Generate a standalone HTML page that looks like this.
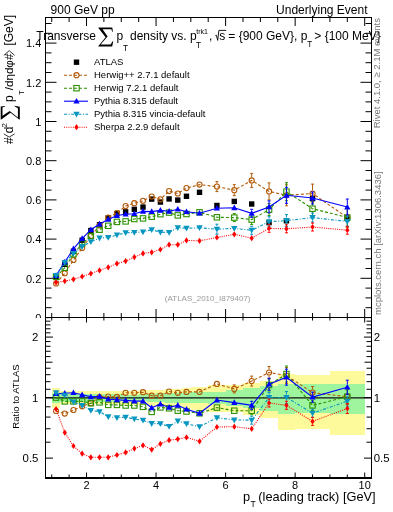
<!DOCTYPE html><html><head><meta charset="utf-8"><style>html,body{margin:0;padding:0;background:#fff;overflow:hidden}svg{display:block;will-change:transform}</style></head><body><svg width="393" height="512" viewBox="0 0 393 512" font-family="'Liberation Sans', sans-serif">
<rect width="393" height="512" fill="#fff"/>
<text x="50.6" y="14" font-size="12">900 GeV pp</text>
<text x="367.5" y="14" font-size="12" text-anchor="end">Underlying Event</text>
<path d="M45.5,317.50h11M371.5,317.50h-11M45.5,307.70h6M371.5,307.70h-6M45.5,297.90h6M371.5,297.90h-6M45.5,288.10h6M371.5,288.10h-6M45.5,278.30h11M371.5,278.30h-11M45.5,268.50h6M371.5,268.50h-6M45.5,258.70h6M371.5,258.70h-6M45.5,248.90h6M371.5,248.90h-6M45.5,239.10h11M371.5,239.10h-11M45.5,229.30h6M371.5,229.30h-6M45.5,219.50h6M371.5,219.50h-6M45.5,209.70h6M371.5,209.70h-6M45.5,199.90h11M371.5,199.90h-11M45.5,190.10h6M371.5,190.10h-6M45.5,180.30h6M371.5,180.30h-6M45.5,170.50h6M371.5,170.50h-6M45.5,160.70h11M371.5,160.70h-11M45.5,150.90h6M371.5,150.90h-6M45.5,141.10h6M371.5,141.10h-6M45.5,131.30h6M371.5,131.30h-6M45.5,121.50h11M371.5,121.50h-11M45.5,111.70h6M371.5,111.70h-6M45.5,101.90h6M371.5,101.90h-6M45.5,92.10h6M371.5,92.10h-6M45.5,82.30h11M371.5,82.30h-11M45.5,72.50h6M371.5,72.50h-6M45.5,62.70h6M371.5,62.70h-6M45.5,52.90h6M371.5,52.90h-6M45.5,43.10h11M371.5,43.10h-11M45.5,33.30h6M371.5,33.30h-6M45.5,23.50h6M371.5,23.50h-6M51.73,17.5v4.5M51.73,317.5v-4.5M69.11,17.5v4.5M69.11,317.5v-4.5M86.50,17.5v8.5M86.50,317.5v-8.5M103.89,17.5v4.5M103.89,317.5v-4.5M121.28,17.5v4.5M121.28,317.5v-4.5M138.66,17.5v4.5M138.66,317.5v-4.5M156.05,17.5v8.5M156.05,317.5v-8.5M173.44,17.5v4.5M173.44,317.5v-4.5M190.82,17.5v4.5M190.82,317.5v-4.5M208.21,17.5v4.5M208.21,317.5v-4.5M225.60,17.5v8.5M225.60,317.5v-8.5M242.99,17.5v4.5M242.99,317.5v-4.5M260.38,17.5v4.5M260.38,317.5v-4.5M277.76,17.5v4.5M277.76,317.5v-4.5M295.15,17.5v8.5M295.15,317.5v-8.5M312.54,17.5v4.5M312.54,317.5v-4.5M329.92,17.5v4.5M329.92,317.5v-4.5M347.31,17.5v4.5M347.31,317.5v-4.5M364.70,17.5v8.5M364.70,317.5v-8.5" stroke="#000" stroke-width="1" fill="none"/>
<text x="41.3" y="282.60" font-size="11" text-anchor="end">0.2</text>
<text x="41.3" y="243.40" font-size="11" text-anchor="end">0.4</text>
<text x="41.3" y="204.20" font-size="11" text-anchor="end">0.6</text>
<text x="41.3" y="165.00" font-size="11" text-anchor="end">0.8</text>
<text x="41.3" y="125.80" font-size="11" text-anchor="end">1</text>
<text x="41.3" y="86.60" font-size="11" text-anchor="end">1.2</text>
<text x="41.3" y="47.40" font-size="11" text-anchor="end">1.4</text>
<svg x="0" y="0" width="393" height="317.6"><text x="41.3" y="321.80" font-size="11" text-anchor="end">0</text></svg>
<rect x="53.37" y="274.80" width="5.4" height="5.4" fill="#000"/>
<rect x="62.07" y="261.59" width="5.4" height="5.4" fill="#000"/>
<rect x="70.76" y="248.52" width="5.4" height="5.4" fill="#000"/>
<rect x="79.45" y="237.51" width="5.4" height="5.4" fill="#000"/>
<rect x="88.15" y="227.81" width="5.4" height="5.4" fill="#000"/>
<rect x="96.84" y="222.04" width="5.4" height="5.4" fill="#000"/>
<rect x="105.53" y="215.12" width="5.4" height="5.4" fill="#000"/>
<rect x="114.23" y="210.86" width="5.4" height="5.4" fill="#000"/>
<rect x="122.92" y="209.14" width="5.4" height="5.4" fill="#000"/>
<rect x="131.62" y="206.62" width="5.4" height="5.4" fill="#000"/>
<rect x="140.31" y="204.36" width="5.4" height="5.4" fill="#000"/>
<rect x="149.00" y="196.41" width="5.4" height="5.4" fill="#000"/>
<rect x="157.70" y="199.36" width="5.4" height="5.4" fill="#000"/>
<rect x="166.39" y="196.22" width="5.4" height="5.4" fill="#000"/>
<rect x="175.08" y="197.39" width="5.4" height="5.4" fill="#000"/>
<rect x="183.78" y="193.58" width="5.4" height="5.4" fill="#000"/>
<rect x="196.82" y="189.61" width="5.4" height="5.4" fill="#000"/>
<rect x="214.21" y="202.76" width="5.4" height="5.4" fill="#000"/>
<rect x="231.59" y="198.72" width="5.4" height="5.4" fill="#000"/>
<rect x="248.98" y="201.31" width="5.4" height="5.4" fill="#000"/>
<rect x="266.37" y="219.94" width="5.4" height="5.4" fill="#000"/>
<rect x="283.76" y="218.07" width="5.4" height="5.4" fill="#000"/>
<rect x="309.84" y="195.93" width="5.4" height="5.4" fill="#000"/>
<rect x="344.61" y="215.83" width="5.4" height="5.4" fill="#000"/>
<polyline points="56.07,283.50 64.77,273.20 73.46,260.00 82.15,248.00 90.85,236.00 99.54,225.50 108.23,217.50 116.93,213.00 125.62,206.10 134.32,203.20 143.01,200.80 151.70,196.50 160.40,199.30 169.09,191.10 177.78,193.50 186.48,188.10 199.52,184.60 216.91,186.60 234.29,190.20 251.68,180.40 269.07,191.40 286.46,195.30 312.54,193.50 347.31,217.50" fill="none" stroke="#b35a08" stroke-width="1.1" stroke-dasharray="3,2"/>
<circle cx="56.07" cy="283.50" r="2.55" fill="none" stroke="#b35a08" stroke-width="1.1"/>
<circle cx="64.77" cy="273.20" r="2.55" fill="none" stroke="#b35a08" stroke-width="1.1"/>
<circle cx="73.46" cy="260.00" r="2.55" fill="none" stroke="#b35a08" stroke-width="1.1"/>
<circle cx="82.15" cy="248.00" r="2.55" fill="none" stroke="#b35a08" stroke-width="1.1"/>
<circle cx="90.85" cy="236.00" r="2.55" fill="none" stroke="#b35a08" stroke-width="1.1"/>
<circle cx="99.54" cy="225.50" r="2.55" fill="none" stroke="#b35a08" stroke-width="1.1"/>
<circle cx="108.23" cy="217.50" r="2.55" fill="none" stroke="#b35a08" stroke-width="1.1"/>
<circle cx="116.93" cy="213.00" r="2.55" fill="none" stroke="#b35a08" stroke-width="1.1"/>
<circle cx="125.62" cy="206.10" r="2.55" fill="none" stroke="#b35a08" stroke-width="1.1"/>
<circle cx="134.32" cy="203.20" r="2.55" fill="none" stroke="#b35a08" stroke-width="1.1"/>
<circle cx="143.01" cy="200.80" r="2.55" fill="none" stroke="#b35a08" stroke-width="1.1"/>
<circle cx="151.70" cy="196.50" r="2.55" fill="none" stroke="#b35a08" stroke-width="1.1"/>
<circle cx="160.40" cy="199.30" r="2.55" fill="none" stroke="#b35a08" stroke-width="1.1"/>
<circle cx="169.09" cy="191.10" r="2.55" fill="none" stroke="#b35a08" stroke-width="1.1"/>
<circle cx="177.78" cy="193.50" r="2.55" fill="none" stroke="#b35a08" stroke-width="1.1"/>
<circle cx="186.48" cy="188.10" r="2.55" fill="none" stroke="#b35a08" stroke-width="1.1"/>
<circle cx="199.52" cy="184.60" r="2.55" fill="none" stroke="#b35a08" stroke-width="1.1"/>
<path d="M216.91,181.60V183.60M216.91,189.60V191.60M215.41,181.60h3M215.41,191.60h3" stroke="#b35a08" stroke-width="1" fill="none"/>
<circle cx="216.91" cy="186.60" r="2.55" fill="none" stroke="#b35a08" stroke-width="1.1"/>
<path d="M234.29,184.70V187.20M234.29,193.20V195.70M232.79,184.70h3M232.79,195.70h3" stroke="#b35a08" stroke-width="1" fill="none"/>
<circle cx="234.29" cy="190.20" r="2.55" fill="none" stroke="#b35a08" stroke-width="1.1"/>
<path d="M251.68,173.40V177.40M251.68,183.40V187.40M250.18,173.40h3M250.18,187.40h3" stroke="#b35a08" stroke-width="1" fill="none"/>
<circle cx="251.68" cy="180.40" r="2.55" fill="none" stroke="#b35a08" stroke-width="1.1"/>
<path d="M269.07,182.90V188.40M269.07,194.40V199.90M267.57,182.90h3M267.57,199.90h3" stroke="#b35a08" stroke-width="1" fill="none"/>
<circle cx="269.07" cy="191.40" r="2.55" fill="none" stroke="#b35a08" stroke-width="1.1"/>
<path d="M286.46,184.80V192.30M286.46,198.30V205.80M284.96,184.80h3M284.96,205.80h3" stroke="#b35a08" stroke-width="1" fill="none"/>
<circle cx="286.46" cy="195.30" r="2.55" fill="none" stroke="#b35a08" stroke-width="1.1"/>
<path d="M312.54,184.10V190.50M312.54,196.50V202.90M311.04,184.10h3M311.04,202.90h3" stroke="#b35a08" stroke-width="1" fill="none"/>
<circle cx="312.54" cy="193.50" r="2.55" fill="none" stroke="#b35a08" stroke-width="1.1"/>
<path d="M347.31,207.50V214.50M347.31,220.50V227.50M345.81,207.50h3M345.81,227.50h3" stroke="#b35a08" stroke-width="1" fill="none"/>
<circle cx="347.31" cy="217.50" r="2.55" fill="none" stroke="#b35a08" stroke-width="1.1"/>
<polyline points="56.07,276.80 64.77,267.80 73.46,254.20 82.15,243.50 90.85,236.00 99.54,229.70 108.23,225.80 116.93,221.90 125.62,221.40 134.32,219.00 143.01,218.40 151.70,216.70 160.40,214.20 169.09,212.60 177.78,215.40 186.48,214.00 199.52,212.30 216.91,217.30 234.29,217.60 251.68,219.60 269.07,209.60 286.46,191.70 312.54,208.70 347.31,217.50" fill="none" stroke="#2c9000" stroke-width="1.1" stroke-dasharray="3,2"/>
<rect x="53.37" y="274.10" width="5.4" height="5.4" fill="none" stroke="#2c9000" stroke-width="1.1"/>
<rect x="62.07" y="265.10" width="5.4" height="5.4" fill="none" stroke="#2c9000" stroke-width="1.1"/>
<rect x="70.76" y="251.50" width="5.4" height="5.4" fill="none" stroke="#2c9000" stroke-width="1.1"/>
<rect x="79.45" y="240.80" width="5.4" height="5.4" fill="none" stroke="#2c9000" stroke-width="1.1"/>
<rect x="88.15" y="233.30" width="5.4" height="5.4" fill="none" stroke="#2c9000" stroke-width="1.1"/>
<rect x="96.84" y="227.00" width="5.4" height="5.4" fill="none" stroke="#2c9000" stroke-width="1.1"/>
<rect x="105.53" y="223.10" width="5.4" height="5.4" fill="none" stroke="#2c9000" stroke-width="1.1"/>
<rect x="114.23" y="219.20" width="5.4" height="5.4" fill="none" stroke="#2c9000" stroke-width="1.1"/>
<rect x="122.92" y="218.70" width="5.4" height="5.4" fill="none" stroke="#2c9000" stroke-width="1.1"/>
<rect x="131.62" y="216.30" width="5.4" height="5.4" fill="none" stroke="#2c9000" stroke-width="1.1"/>
<rect x="140.31" y="215.70" width="5.4" height="5.4" fill="none" stroke="#2c9000" stroke-width="1.1"/>
<rect x="149.00" y="214.00" width="5.4" height="5.4" fill="none" stroke="#2c9000" stroke-width="1.1"/>
<rect x="157.70" y="211.50" width="5.4" height="5.4" fill="none" stroke="#2c9000" stroke-width="1.1"/>
<rect x="166.39" y="209.90" width="5.4" height="5.4" fill="none" stroke="#2c9000" stroke-width="1.1"/>
<rect x="175.08" y="212.70" width="5.4" height="5.4" fill="none" stroke="#2c9000" stroke-width="1.1"/>
<rect x="183.78" y="211.30" width="5.4" height="5.4" fill="none" stroke="#2c9000" stroke-width="1.1"/>
<rect x="196.82" y="209.60" width="5.4" height="5.4" fill="none" stroke="#2c9000" stroke-width="1.1"/>
<rect x="214.21" y="214.60" width="5.4" height="5.4" fill="none" stroke="#2c9000" stroke-width="1.1"/>
<path d="M234.29,213.60V214.60M234.29,220.60V221.60M232.79,213.60h3M232.79,221.60h3" stroke="#2c9000" stroke-width="1" fill="none"/>
<rect x="231.59" y="214.90" width="5.4" height="5.4" fill="none" stroke="#2c9000" stroke-width="1.1"/>
<path d="M251.68,214.60V216.60M251.68,222.60V224.60M250.18,214.60h3M250.18,224.60h3" stroke="#2c9000" stroke-width="1" fill="none"/>
<rect x="248.98" y="216.90" width="5.4" height="5.4" fill="none" stroke="#2c9000" stroke-width="1.1"/>
<path d="M269.07,203.60V206.60M269.07,212.60V215.60M267.57,203.60h3M267.57,215.60h3" stroke="#2c9000" stroke-width="1" fill="none"/>
<rect x="266.37" y="206.90" width="5.4" height="5.4" fill="none" stroke="#2c9000" stroke-width="1.1"/>
<path d="M286.46,182.70V188.70M286.46,194.70V200.70M284.96,182.70h3M284.96,200.70h3" stroke="#2c9000" stroke-width="1" fill="none"/>
<rect x="283.76" y="189.00" width="5.4" height="5.4" fill="none" stroke="#2c9000" stroke-width="1.1"/>
<path d="M312.54,201.70V205.70M312.54,211.70V215.70M311.04,201.70h3M311.04,215.70h3" stroke="#2c9000" stroke-width="1" fill="none"/>
<rect x="309.84" y="206.00" width="5.4" height="5.4" fill="none" stroke="#2c9000" stroke-width="1.1"/>
<path d="M347.31,208.50V214.50M347.31,220.50V226.50M345.81,208.50h3M345.81,226.50h3" stroke="#2c9000" stroke-width="1" fill="none"/>
<rect x="344.61" y="214.80" width="5.4" height="5.4" fill="none" stroke="#2c9000" stroke-width="1.1"/>
<polyline points="56.07,275.50 64.77,262.00 73.46,248.80 82.15,238.60 90.85,229.70 99.54,224.00 108.23,219.40 116.93,215.50 125.62,214.20 134.32,213.70 143.01,211.40 151.70,211.60 160.40,210.40 169.09,211.30 177.78,209.20 186.48,211.70 199.52,213.20 216.91,208.20 234.29,207.80 251.68,213.30 269.07,206.90 286.46,195.30 312.54,198.00 347.31,207.00" fill="none" stroke="#0000ff" stroke-width="1.1"/>
<path d="M56.07,272.20L59.17,277.90L52.97,277.90Z" fill="#0000ff"/>
<path d="M64.77,258.70L67.87,264.40L61.67,264.40Z" fill="#0000ff"/>
<path d="M73.46,245.50L76.56,251.20L70.36,251.20Z" fill="#0000ff"/>
<path d="M82.15,235.30L85.25,241.00L79.05,241.00Z" fill="#0000ff"/>
<path d="M90.85,226.40L93.95,232.10L87.75,232.10Z" fill="#0000ff"/>
<path d="M99.54,220.70L102.64,226.40L96.44,226.40Z" fill="#0000ff"/>
<path d="M108.23,216.10L111.33,221.80L105.13,221.80Z" fill="#0000ff"/>
<path d="M116.93,212.20L120.03,217.90L113.83,217.90Z" fill="#0000ff"/>
<path d="M125.62,210.90L128.72,216.60L122.52,216.60Z" fill="#0000ff"/>
<path d="M134.32,210.40L137.42,216.10L131.22,216.10Z" fill="#0000ff"/>
<path d="M143.01,208.10L146.11,213.80L139.91,213.80Z" fill="#0000ff"/>
<path d="M151.70,208.30L154.80,214.00L148.60,214.00Z" fill="#0000ff"/>
<path d="M160.40,207.10L163.50,212.80L157.30,212.80Z" fill="#0000ff"/>
<path d="M169.09,208.00L172.19,213.70L165.99,213.70Z" fill="#0000ff"/>
<path d="M177.78,205.90L180.88,211.60L174.68,211.60Z" fill="#0000ff"/>
<path d="M186.48,208.40L189.58,214.10L183.38,214.10Z" fill="#0000ff"/>
<path d="M199.52,209.90L202.62,215.60L196.42,215.60Z" fill="#0000ff"/>
<path d="M216.91,204.90L220.01,210.60L213.81,210.60Z" fill="#0000ff"/>
<path d="M234.29,204.50L237.39,210.20L231.19,210.20Z" fill="#0000ff"/>
<path d="M251.68,209.30V210.30M251.68,216.30V217.30M250.18,209.30h3M250.18,217.30h3" stroke="#0000ff" stroke-width="1" fill="none"/>
<path d="M251.68,210.00L254.78,215.70L248.58,215.70Z" fill="#0000ff"/>
<path d="M269.07,200.90V203.90M269.07,209.90V212.90M267.57,200.90h3M267.57,212.90h3" stroke="#0000ff" stroke-width="1" fill="none"/>
<path d="M269.07,203.60L272.17,209.30L265.97,209.30Z" fill="#0000ff"/>
<path d="M286.46,187.30V192.30M286.46,198.30V203.30M284.96,187.30h3M284.96,203.30h3" stroke="#0000ff" stroke-width="1" fill="none"/>
<path d="M286.46,192.00L289.56,197.70L283.36,197.70Z" fill="#0000ff"/>
<path d="M312.54,192.00V195.00M312.54,201.00V204.00M311.04,192.00h3M311.04,204.00h3" stroke="#0000ff" stroke-width="1" fill="none"/>
<path d="M312.54,194.70L315.64,200.40L309.44,200.40Z" fill="#0000ff"/>
<path d="M347.31,199.00V204.00M347.31,210.00V215.00M345.81,199.00h3M345.81,215.00h3" stroke="#0000ff" stroke-width="1" fill="none"/>
<path d="M347.31,203.70L350.41,209.40L344.21,209.40Z" fill="#0000ff"/>
<polyline points="56.07,275.60 64.77,262.50 73.46,253.50 82.15,246.60 90.85,241.70 99.54,238.10 108.23,237.50 116.93,235.00 125.62,232.80 134.32,232.50 143.01,231.90 151.70,229.70 160.40,232.20 169.09,232.50 177.78,227.70 186.48,228.20 199.52,227.80 216.91,229.20 234.29,228.40 251.68,230.30 269.07,221.70 286.46,220.60 312.54,217.60 347.31,221.40" fill="none" stroke="#0896c0" stroke-width="1.1" stroke-dasharray="3,1.6,1,1.6"/>
<path d="M56.07,278.90L59.27,273.10L52.87,273.10Z" fill="#0896c0"/>
<path d="M64.77,265.80L67.97,260.00L61.57,260.00Z" fill="#0896c0"/>
<path d="M73.46,256.80L76.66,251.00L70.26,251.00Z" fill="#0896c0"/>
<path d="M82.15,249.90L85.35,244.10L78.95,244.10Z" fill="#0896c0"/>
<path d="M90.85,245.00L94.05,239.20L87.65,239.20Z" fill="#0896c0"/>
<path d="M99.54,241.40L102.74,235.60L96.34,235.60Z" fill="#0896c0"/>
<path d="M108.23,240.80L111.43,235.00L105.03,235.00Z" fill="#0896c0"/>
<path d="M116.93,238.30L120.13,232.50L113.73,232.50Z" fill="#0896c0"/>
<path d="M125.62,236.10L128.82,230.30L122.42,230.30Z" fill="#0896c0"/>
<path d="M134.32,235.80L137.52,230.00L131.12,230.00Z" fill="#0896c0"/>
<path d="M143.01,235.20L146.21,229.40L139.81,229.40Z" fill="#0896c0"/>
<path d="M151.70,233.00L154.90,227.20L148.50,227.20Z" fill="#0896c0"/>
<path d="M160.40,235.50L163.60,229.70L157.20,229.70Z" fill="#0896c0"/>
<path d="M169.09,235.80L172.29,230.00L165.89,230.00Z" fill="#0896c0"/>
<path d="M177.78,231.00L180.98,225.20L174.58,225.20Z" fill="#0896c0"/>
<path d="M186.48,231.50L189.68,225.70L183.28,225.70Z" fill="#0896c0"/>
<path d="M199.52,231.10L202.72,225.30L196.32,225.30Z" fill="#0896c0"/>
<path d="M216.91,224.20V226.20M216.91,232.20V234.20M215.41,224.20h3M215.41,234.20h3" stroke="#0896c0" stroke-width="1" fill="none"/>
<path d="M216.91,232.50L220.11,226.70L213.71,226.70Z" fill="#0896c0"/>
<path d="M234.29,231.70L237.49,225.90L231.09,225.90Z" fill="#0896c0"/>
<path d="M251.68,226.30V227.30M251.68,233.30V234.30M250.18,226.30h3M250.18,234.30h3" stroke="#0896c0" stroke-width="1" fill="none"/>
<path d="M251.68,233.60L254.88,227.80L248.48,227.80Z" fill="#0896c0"/>
<path d="M269.07,216.70V218.70M269.07,224.70V226.70M267.57,216.70h3M267.57,226.70h3" stroke="#0896c0" stroke-width="1" fill="none"/>
<path d="M269.07,225.00L272.27,219.20L265.87,219.20Z" fill="#0896c0"/>
<path d="M286.46,214.60V217.60M286.46,223.60V226.60M284.96,214.60h3M284.96,226.60h3" stroke="#0896c0" stroke-width="1" fill="none"/>
<path d="M286.46,223.90L289.66,218.10L283.26,218.10Z" fill="#0896c0"/>
<path d="M312.54,213.10V214.60M312.54,220.60V222.10M311.04,213.10h3M311.04,222.10h3" stroke="#0896c0" stroke-width="1" fill="none"/>
<path d="M312.54,220.90L315.74,215.10L309.34,215.10Z" fill="#0896c0"/>
<path d="M347.31,216.40V218.40M347.31,224.40V226.40M345.81,216.40h3M345.81,226.40h3" stroke="#0896c0" stroke-width="1" fill="none"/>
<path d="M347.31,224.70L350.51,218.90L344.11,218.90Z" fill="#0896c0"/>
<polyline points="56.07,282.40 64.77,281.10 73.46,279.30 82.15,276.50 90.85,273.60 99.54,270.40 108.23,267.30 116.93,263.60 125.62,261.10 134.32,257.10 143.01,253.40 151.70,252.30 160.40,249.50 169.09,244.70 177.78,244.70 186.48,240.40 199.52,240.80 216.91,237.50 234.29,234.30 251.68,238.20 269.07,228.30 286.46,228.80 312.54,227.00 347.31,230.20" fill="none" stroke="#ff0000" stroke-width="1.1" stroke-dasharray="1,1.2"/>
<path d="M56.07,279.30L58.17,282.40L56.07,285.50L53.97,282.40Z" fill="#ff0000"/>
<path d="M64.77,278.00L66.87,281.10L64.77,284.20L62.67,281.10Z" fill="#ff0000"/>
<path d="M73.46,276.20L75.56,279.30L73.46,282.40L71.36,279.30Z" fill="#ff0000"/>
<path d="M82.15,273.40L84.25,276.50L82.15,279.60L80.05,276.50Z" fill="#ff0000"/>
<path d="M90.85,270.50L92.95,273.60L90.85,276.70L88.75,273.60Z" fill="#ff0000"/>
<path d="M99.54,267.30L101.64,270.40L99.54,273.50L97.44,270.40Z" fill="#ff0000"/>
<path d="M108.23,264.20L110.33,267.30L108.23,270.40L106.13,267.30Z" fill="#ff0000"/>
<path d="M116.93,260.50L119.03,263.60L116.93,266.70L114.83,263.60Z" fill="#ff0000"/>
<path d="M125.62,258.00L127.72,261.10L125.62,264.20L123.52,261.10Z" fill="#ff0000"/>
<path d="M134.32,254.00L136.42,257.10L134.32,260.20L132.22,257.10Z" fill="#ff0000"/>
<path d="M143.01,250.30L145.11,253.40L143.01,256.50L140.91,253.40Z" fill="#ff0000"/>
<path d="M151.70,249.20L153.80,252.30L151.70,255.40L149.60,252.30Z" fill="#ff0000"/>
<path d="M160.40,246.40L162.50,249.50L160.40,252.60L158.30,249.50Z" fill="#ff0000"/>
<path d="M169.09,241.60L171.19,244.70L169.09,247.80L166.99,244.70Z" fill="#ff0000"/>
<path d="M177.78,241.60L179.88,244.70L177.78,247.80L175.68,244.70Z" fill="#ff0000"/>
<path d="M186.48,237.30L188.58,240.40L186.48,243.50L184.38,240.40Z" fill="#ff0000"/>
<path d="M199.52,237.70L201.62,240.80L199.52,243.90L197.42,240.80Z" fill="#ff0000"/>
<path d="M216.91,234.40L219.01,237.50L216.91,240.60L214.81,237.50Z" fill="#ff0000"/>
<path d="M234.29,231.20L236.39,234.30L234.29,237.40L232.19,234.30Z" fill="#ff0000"/>

<path d="M251.68,235.10L253.78,238.20L251.68,241.30L249.58,238.20Z" fill="#ff0000"/>
<path d="M269.07,224.30V225.30M269.07,231.30V232.30M267.57,224.30h3M267.57,232.30h3" stroke="#ff0000" stroke-width="1" fill="none"/>
<path d="M269.07,225.20L271.17,228.30L269.07,231.40L266.97,228.30Z" fill="#ff0000"/>
<path d="M286.46,224.80V225.80M286.46,231.80V232.80M284.96,224.80h3M284.96,232.80h3" stroke="#ff0000" stroke-width="1" fill="none"/>
<path d="M286.46,225.70L288.56,228.80L286.46,231.90L284.36,228.80Z" fill="#ff0000"/>
<path d="M312.54,223.00V224.00M312.54,230.00V231.00M311.04,223.00h3M311.04,231.00h3" stroke="#ff0000" stroke-width="1" fill="none"/>
<path d="M312.54,223.90L314.64,227.00L312.54,230.10L310.44,227.00Z" fill="#ff0000"/>
<path d="M347.31,226.20V227.20M347.31,233.20V234.20M345.81,226.20h3M345.81,234.20h3" stroke="#ff0000" stroke-width="1" fill="none"/>
<path d="M347.31,227.10L349.41,230.20L347.31,233.30L345.21,230.20Z" fill="#ff0000"/>
<rect x="45.5" y="17.5" width="326.0" height="300.0" fill="none" stroke="#000" stroke-width="1"/>
<rect x="73.80" y="59.50" width="5.4" height="5.4" fill="#000"/>
<text x="94" y="64.80" font-size="9.5">ATLAS</text>
<path d="M64,75.20H88" stroke="#b35a08" stroke-width="1.1" stroke-dasharray="3,2"/>
<circle cx="76.50" cy="75.20" r="2.55" fill="none" stroke="#b35a08" stroke-width="1.1"/>
<text x="94" y="77.80" font-size="9.5">Herwig++ 2.7.1 default</text>
<path d="M64,88.20H88" stroke="#2c9000" stroke-width="1.1" stroke-dasharray="3,2"/>
<rect x="73.80" y="85.50" width="5.4" height="5.4" fill="none" stroke="#2c9000" stroke-width="1.1"/>
<text x="94" y="90.80" font-size="9.5">Herwig 7.2.1 default</text>
<path d="M64,101.20H88" stroke="#0000ff" stroke-width="1.1"/>
<path d="M76.50,97.90L79.60,103.60L73.40,103.60Z" fill="#0000ff"/>
<text x="94" y="103.80" font-size="9.5">Pythia 8.315 default</text>
<path d="M64,114.20H88" stroke="#0896c0" stroke-width="1.1" stroke-dasharray="3,1.6,1,1.6"/>
<path d="M76.50,117.50L79.70,111.70L73.30,111.70Z" fill="#0896c0"/>
<text x="94" y="116.80" font-size="9.5">Pythia 8.315 vincia-default</text>
<path d="M64,127.20H88" stroke="#ff0000" stroke-width="1.1" stroke-dasharray="1,1.2"/>
<path d="M76.50,124.10L78.60,127.20L76.50,130.30L74.40,127.20Z" fill="#ff0000"/>
<text x="94" y="129.80" font-size="9.5">Sherpa 2.2.9 default</text>
<text x="207.7" y="301.3" font-size="8" fill="#999" text-anchor="middle">(ATLAS_2010_I879407)</text>
<text x="36.3" y="40.3" font-size="12">Transverse</text>
<path transform="translate(98.4,27.4)" d="M0,0L13.9,0L14.5,4.4L13.9,4.4L12.9,1.8L4.2,1.8L9.2,9L2.2,17.2L12.2,17.2L14.2,13.8L14.8,13.8L13.8,19.1L0,19.1L0,18.5L7.2,9.8L0,0.6Z" fill="#000"/>
<text x="116.6" y="40.3" font-size="12">p</text>
<text x="123" y="51" font-size="8.2">T</text>
<text x="130" y="40.3" font-size="12">density vs. p</text>
<text x="196.3" y="34" font-size="7">trk1</text>
<text x="196" y="47.5" font-size="8.2">T</text>
<text x="209" y="40.3" font-size="12">,</text>
<path d="M215.4,35.6L216.3,35.2L217.7,40.4L218.9,30.4L226.2,30.4" fill="none" stroke="#000" stroke-width="0.9"/>
<text x="219.2" y="40.3" font-size="12">s</text>
<text x="228.3" y="40.3" font-size="12">= {900 GeV}, p</text>
<text x="307.2" y="46.5" font-size="8.2">T</text>
<text x="314.3" y="40.3" font-size="12">&gt; {100 MeV}</text>
<g transform="translate(13.2,143.8) rotate(-90)"><text x="-0.3" y="0" font-size="12">#</text><path d="M9.9,-9.4L6.7,-4L9.9,1.4" fill="none" stroke="#000" stroke-width="0.8"/><text x="10.5" y="0" font-size="12">d</text><text x="16.3" y="-6.1" font-size="8">2</text><path transform="translate(24.2,-12.5) scale(0.94,1)" d="M0,0L13.9,0L14.5,4.4L13.9,4.4L12.9,1.8L4.2,1.8L9.2,9L2.2,17.2L12.2,17.2L14.2,13.8L14.8,13.8L13.8,19.1L0,19.1L0,18.5L7.2,9.8L0,0.6Z" fill="#000"/><text x="41.8" y="0" font-size="12">p</text><text x="48.9" y="10.6" font-size="7.7">T</text><text x="53.6" y="0" font-size="11.6">/dηdφ#</text><path d="M88.4,-9.4L93.2,-4L88.4,1.4" fill="none" stroke="#000" stroke-width="0.8"/><text x="98.2" y="0" font-size="12">[GeV]</text></g>
<text transform="translate(19.2,396.5) rotate(-90)" font-size="9.5" text-anchor="middle">Ratio to ATLAS</text>
<text transform="translate(380,128.3) rotate(-90)" font-size="9.5" fill="#777">Rivet 4.1.0, ≥ 2.1M events</text>
<text transform="translate(381,315) rotate(-90)" font-size="9.5" fill="#777">mcplots.cern.ch [arXiv:1306.3436]</text>
<path d="M51.73,388.49H60.42V407.77H51.73ZM60.42,391.29H69.11V404.41H60.42ZM69.11,391.29H77.81V404.41H69.11ZM77.81,391.29H86.50V404.41H77.81ZM86.50,391.29H95.19V404.41H86.50ZM95.19,391.29H103.89V404.41H95.19ZM103.89,391.29H112.58V404.41H103.89ZM112.58,391.29H121.28V404.41H112.58ZM121.28,391.04H129.97V404.69H121.28ZM129.97,390.88H138.66V404.88H129.97ZM138.66,390.48H147.36V405.35H138.66ZM147.36,390.08H156.05V405.83H147.36ZM156.05,389.68H164.74V406.31H156.05ZM164.74,389.28H173.44V406.80H164.74ZM173.44,388.88H182.13V407.28H173.44ZM182.13,388.49H190.82V407.77H182.13ZM190.82,386.93H208.21V409.76H190.82ZM208.21,385.40H225.60V411.79H208.21ZM225.60,385.40H242.99V411.79H225.60ZM242.99,383.15H260.38V414.92H242.99ZM260.38,380.96H277.76V418.18H260.38ZM277.76,374.03H295.15V429.99H277.76ZM295.15,374.70H329.92V428.74H295.15ZM329.92,371.40H364.70V435.20H329.92Z" fill="#fdfa9c" stroke="none" shape-rendering="crispEdges"/>
<path d="M51.73,392.93H60.42V402.54H51.73ZM60.42,393.76H69.11V401.62H60.42ZM69.11,393.76H77.81V401.62H69.11ZM77.81,393.76H86.50V401.62H77.81ZM86.50,393.76H95.19V401.62H86.50ZM95.19,393.76H103.89V401.62H95.19ZM103.89,393.76H112.58V401.62H103.89ZM112.58,393.76H121.28V401.62H112.58ZM121.28,394.60H129.97V400.71H121.28ZM129.97,394.60H138.66V400.71H129.97ZM138.66,394.18H147.36V401.16H138.66ZM147.36,393.76H156.05V401.62H147.36ZM156.05,393.34H164.74V402.08H156.05ZM164.74,392.93H173.44V402.54H164.74ZM173.44,392.68H182.13V402.82H173.44ZM182.13,392.51H190.82V403.00H182.13ZM190.82,392.10H208.21V403.47H190.82ZM208.21,391.69H225.60V403.93H208.21ZM225.60,389.68H242.99V406.31H225.60ZM242.99,388.49H260.38V407.77H242.99ZM260.38,386.16H277.76V410.77H260.38ZM277.76,383.89H295.15V413.87H277.76ZM295.15,384.27H329.92V413.34H295.15ZM329.92,383.52H364.70V414.39H329.92Z" fill="#9ef59e" stroke="none" shape-rendering="crispEdges"/>
<path d="M45.5,397.80H371.5" stroke="#111" stroke-width="1.2"/>
<polyline points="56.07,411.00 64.77,413.60 73.46,410.00 82.15,406.30 90.85,403.20 99.54,397.00 108.23,396.60 116.93,396.90 125.62,392.80 134.32,392.80 143.01,392.20 151.70,395.70 160.40,395.70 169.09,391.50 177.78,392.80 186.48,391.90 199.52,391.90 216.91,383.90 234.29,388.90 251.68,381.10 269.07,372.50 286.46,375.60 312.54,392.60 347.31,396.70" fill="none" stroke="#b35a08" stroke-width="1.1" stroke-dasharray="3,2"/>
<circle cx="56.07" cy="411.00" r="2.55" fill="none" stroke="#b35a08" stroke-width="1.1"/>
<circle cx="64.77" cy="413.60" r="2.55" fill="none" stroke="#b35a08" stroke-width="1.1"/>
<circle cx="73.46" cy="410.00" r="2.55" fill="none" stroke="#b35a08" stroke-width="1.1"/>
<circle cx="82.15" cy="406.30" r="2.55" fill="none" stroke="#b35a08" stroke-width="1.1"/>
<circle cx="90.85" cy="403.20" r="2.55" fill="none" stroke="#b35a08" stroke-width="1.1"/>
<circle cx="99.54" cy="397.00" r="2.55" fill="none" stroke="#b35a08" stroke-width="1.1"/>
<circle cx="108.23" cy="396.60" r="2.55" fill="none" stroke="#b35a08" stroke-width="1.1"/>
<circle cx="116.93" cy="396.90" r="2.55" fill="none" stroke="#b35a08" stroke-width="1.1"/>
<circle cx="125.62" cy="392.80" r="2.55" fill="none" stroke="#b35a08" stroke-width="1.1"/>
<circle cx="134.32" cy="392.80" r="2.55" fill="none" stroke="#b35a08" stroke-width="1.1"/>
<circle cx="143.01" cy="392.20" r="2.55" fill="none" stroke="#b35a08" stroke-width="1.1"/>
<circle cx="151.70" cy="395.70" r="2.55" fill="none" stroke="#b35a08" stroke-width="1.1"/>
<circle cx="160.40" cy="395.70" r="2.55" fill="none" stroke="#b35a08" stroke-width="1.1"/>
<circle cx="169.09" cy="391.50" r="2.55" fill="none" stroke="#b35a08" stroke-width="1.1"/>
<circle cx="177.78" cy="392.80" r="2.55" fill="none" stroke="#b35a08" stroke-width="1.1"/>
<circle cx="186.48" cy="391.90" r="2.55" fill="none" stroke="#b35a08" stroke-width="1.1"/>
<circle cx="199.52" cy="391.90" r="2.55" fill="none" stroke="#b35a08" stroke-width="1.1"/>
<circle cx="216.91" cy="383.90" r="2.55" fill="none" stroke="#b35a08" stroke-width="1.1"/>
<path d="M234.29,384.90V385.90M234.29,391.90V392.90M232.79,384.90h3M232.79,392.90h3" stroke="#b35a08" stroke-width="1" fill="none"/>
<circle cx="234.29" cy="388.90" r="2.55" fill="none" stroke="#b35a08" stroke-width="1.1"/>
<path d="M251.68,376.10V378.10M251.68,384.10V386.10M250.18,376.10h3M250.18,386.10h3" stroke="#b35a08" stroke-width="1" fill="none"/>
<circle cx="251.68" cy="381.10" r="2.55" fill="none" stroke="#b35a08" stroke-width="1.1"/>
<path d="M269.07,366.50V369.50M269.07,375.50V378.50M267.57,366.50h3M267.57,378.50h3" stroke="#b35a08" stroke-width="1" fill="none"/>
<circle cx="269.07" cy="372.50" r="2.55" fill="none" stroke="#b35a08" stroke-width="1.1"/>
<path d="M286.46,367.60V372.60M286.46,378.60V383.60M284.96,367.60h3M284.96,383.60h3" stroke="#b35a08" stroke-width="1" fill="none"/>
<circle cx="286.46" cy="375.60" r="2.55" fill="none" stroke="#b35a08" stroke-width="1.1"/>
<path d="M312.54,386.60V389.60M312.54,395.60V398.60M311.04,386.60h3M311.04,398.60h3" stroke="#b35a08" stroke-width="1" fill="none"/>
<circle cx="312.54" cy="392.60" r="2.55" fill="none" stroke="#b35a08" stroke-width="1.1"/>
<path d="M347.31,388.70V393.70M347.31,399.70V404.70M345.81,388.70h3M345.81,404.70h3" stroke="#b35a08" stroke-width="1" fill="none"/>
<circle cx="347.31" cy="396.70" r="2.55" fill="none" stroke="#b35a08" stroke-width="1.1"/>
<polyline points="56.07,397.60 64.77,401.40 73.46,401.40 82.15,401.40 90.85,403.20 99.54,402.40 108.23,404.90 116.93,404.90 125.62,405.50 134.32,405.50 143.01,406.80 151.70,411.90 160.40,407.40 169.09,408.30 177.78,410.70 186.48,411.50 199.52,413.30 216.91,407.60 234.29,410.70 251.68,410.80 269.07,385.00 286.46,374.00 312.54,405.40 347.31,396.70" fill="none" stroke="#2c9000" stroke-width="1.1" stroke-dasharray="3,2"/>
<rect x="53.37" y="394.90" width="5.4" height="5.4" fill="none" stroke="#2c9000" stroke-width="1.1"/>
<rect x="62.07" y="398.70" width="5.4" height="5.4" fill="none" stroke="#2c9000" stroke-width="1.1"/>
<rect x="70.76" y="398.70" width="5.4" height="5.4" fill="none" stroke="#2c9000" stroke-width="1.1"/>
<rect x="79.45" y="398.70" width="5.4" height="5.4" fill="none" stroke="#2c9000" stroke-width="1.1"/>
<rect x="88.15" y="400.50" width="5.4" height="5.4" fill="none" stroke="#2c9000" stroke-width="1.1"/>
<rect x="96.84" y="399.70" width="5.4" height="5.4" fill="none" stroke="#2c9000" stroke-width="1.1"/>
<rect x="105.53" y="402.20" width="5.4" height="5.4" fill="none" stroke="#2c9000" stroke-width="1.1"/>
<rect x="114.23" y="402.20" width="5.4" height="5.4" fill="none" stroke="#2c9000" stroke-width="1.1"/>
<rect x="122.92" y="402.80" width="5.4" height="5.4" fill="none" stroke="#2c9000" stroke-width="1.1"/>
<rect x="131.62" y="402.80" width="5.4" height="5.4" fill="none" stroke="#2c9000" stroke-width="1.1"/>
<rect x="140.31" y="404.10" width="5.4" height="5.4" fill="none" stroke="#2c9000" stroke-width="1.1"/>
<rect x="149.00" y="409.20" width="5.4" height="5.4" fill="none" stroke="#2c9000" stroke-width="1.1"/>
<rect x="157.70" y="404.70" width="5.4" height="5.4" fill="none" stroke="#2c9000" stroke-width="1.1"/>
<rect x="166.39" y="405.60" width="5.4" height="5.4" fill="none" stroke="#2c9000" stroke-width="1.1"/>
<rect x="175.08" y="408.00" width="5.4" height="5.4" fill="none" stroke="#2c9000" stroke-width="1.1"/>
<rect x="183.78" y="408.80" width="5.4" height="5.4" fill="none" stroke="#2c9000" stroke-width="1.1"/>
<rect x="196.82" y="410.60" width="5.4" height="5.4" fill="none" stroke="#2c9000" stroke-width="1.1"/>
<rect x="214.21" y="404.90" width="5.4" height="5.4" fill="none" stroke="#2c9000" stroke-width="1.1"/>
<rect x="231.59" y="408.00" width="5.4" height="5.4" fill="none" stroke="#2c9000" stroke-width="1.1"/>
<path d="M251.68,406.80V407.80M251.68,413.80V414.80M250.18,406.80h3M250.18,414.80h3" stroke="#2c9000" stroke-width="1" fill="none"/>
<rect x="248.98" y="408.10" width="5.4" height="5.4" fill="none" stroke="#2c9000" stroke-width="1.1"/>
<path d="M269.07,379.00V382.00M269.07,388.00V391.00M267.57,379.00h3M267.57,391.00h3" stroke="#2c9000" stroke-width="1" fill="none"/>
<rect x="266.37" y="382.30" width="5.4" height="5.4" fill="none" stroke="#2c9000" stroke-width="1.1"/>
<path d="M286.46,366.00V371.00M286.46,377.00V382.00M284.96,366.00h3M284.96,382.00h3" stroke="#2c9000" stroke-width="1" fill="none"/>
<rect x="283.76" y="371.30" width="5.4" height="5.4" fill="none" stroke="#2c9000" stroke-width="1.1"/>
<path d="M312.54,400.40V402.40M312.54,408.40V410.40M311.04,400.40h3M311.04,410.40h3" stroke="#2c9000" stroke-width="1" fill="none"/>
<rect x="309.84" y="402.70" width="5.4" height="5.4" fill="none" stroke="#2c9000" stroke-width="1.1"/>
<path d="M347.31,389.70V393.70M347.31,399.70V403.70M345.81,389.70h3M345.81,403.70h3" stroke="#2c9000" stroke-width="1" fill="none"/>
<rect x="344.61" y="394.00" width="5.4" height="5.4" fill="none" stroke="#2c9000" stroke-width="1.1"/>
<polyline points="56.07,393.70 64.77,393.20 73.46,392.70 82.15,394.80 90.85,396.90 99.54,396.40 108.23,399.20 116.93,399.80 125.62,400.40 134.32,401.10 143.01,401.10 151.70,407.80 160.40,404.00 169.09,407.40 177.78,405.30 186.48,409.20 199.52,413.30 216.91,400.00 234.29,402.60 251.68,405.30 269.07,384.20 286.46,377.20 312.54,397.10 347.31,387.20" fill="none" stroke="#0000ff" stroke-width="1.1"/>
<path d="M56.07,390.40L59.17,396.10L52.97,396.10Z" fill="#0000ff"/>
<path d="M64.77,389.90L67.87,395.60L61.67,395.60Z" fill="#0000ff"/>
<path d="M73.46,389.40L76.56,395.10L70.36,395.10Z" fill="#0000ff"/>
<path d="M82.15,391.50L85.25,397.20L79.05,397.20Z" fill="#0000ff"/>
<path d="M90.85,393.60L93.95,399.30L87.75,399.30Z" fill="#0000ff"/>
<path d="M99.54,393.10L102.64,398.80L96.44,398.80Z" fill="#0000ff"/>
<path d="M108.23,395.90L111.33,401.60L105.13,401.60Z" fill="#0000ff"/>
<path d="M116.93,396.50L120.03,402.20L113.83,402.20Z" fill="#0000ff"/>
<path d="M125.62,397.10L128.72,402.80L122.52,402.80Z" fill="#0000ff"/>
<path d="M134.32,397.80L137.42,403.50L131.22,403.50Z" fill="#0000ff"/>
<path d="M143.01,397.80L146.11,403.50L139.91,403.50Z" fill="#0000ff"/>
<path d="M151.70,404.50L154.80,410.20L148.60,410.20Z" fill="#0000ff"/>
<path d="M160.40,400.70L163.50,406.40L157.30,406.40Z" fill="#0000ff"/>
<path d="M169.09,404.10L172.19,409.80L165.99,409.80Z" fill="#0000ff"/>
<path d="M177.78,402.00L180.88,407.70L174.68,407.70Z" fill="#0000ff"/>
<path d="M186.48,405.90L189.58,411.60L183.38,411.60Z" fill="#0000ff"/>
<path d="M199.52,410.00L202.62,415.70L196.42,415.70Z" fill="#0000ff"/>
<path d="M216.91,396.70L220.01,402.40L213.81,402.40Z" fill="#0000ff"/>
<path d="M234.29,399.30L237.39,405.00L231.19,405.00Z" fill="#0000ff"/>
<path d="M251.68,401.30V402.30M251.68,408.30V409.30M250.18,401.30h3M250.18,409.30h3" stroke="#0000ff" stroke-width="1" fill="none"/>
<path d="M251.68,402.00L254.78,407.70L248.58,407.70Z" fill="#0000ff"/>
<path d="M269.07,378.20V381.20M269.07,387.20V390.20M267.57,378.20h3M267.57,390.20h3" stroke="#0000ff" stroke-width="1" fill="none"/>
<path d="M269.07,380.90L272.17,386.60L265.97,386.60Z" fill="#0000ff"/>
<path d="M286.46,369.20V374.20M286.46,380.20V385.20M284.96,369.20h3M284.96,385.20h3" stroke="#0000ff" stroke-width="1" fill="none"/>
<path d="M286.46,373.90L289.56,379.60L283.36,379.60Z" fill="#0000ff"/>
<path d="M312.54,392.10V394.10M312.54,400.10V402.10M311.04,392.10h3M311.04,402.10h3" stroke="#0000ff" stroke-width="1" fill="none"/>
<path d="M312.54,393.80L315.64,399.50L309.44,399.50Z" fill="#0000ff"/>
<path d="M347.31,380.20V384.20M347.31,390.20V394.20M345.81,380.20h3M345.81,394.20h3" stroke="#0000ff" stroke-width="1" fill="none"/>
<path d="M347.31,383.90L350.41,389.60L344.21,389.60Z" fill="#0000ff"/>
<polyline points="56.07,392.70 64.77,395.30 73.46,401.90 82.15,405.40 90.85,410.40 99.54,411.70 108.23,416.80 116.93,417.70 125.62,417.20 134.32,419.00 143.01,420.30 151.70,423.60 160.40,423.70 169.09,426.50 177.78,421.00 186.48,423.80 199.52,426.70 216.91,417.80 234.29,419.90 251.68,420.20 269.07,397.50 286.46,397.50 312.54,413.20 347.31,401.20" fill="none" stroke="#0896c0" stroke-width="1.1" stroke-dasharray="3,1.6,1,1.6"/>
<path d="M56.07,396.00L59.27,390.20L52.87,390.20Z" fill="#0896c0"/>
<path d="M64.77,398.60L67.97,392.80L61.57,392.80Z" fill="#0896c0"/>
<path d="M73.46,405.20L76.66,399.40L70.26,399.40Z" fill="#0896c0"/>
<path d="M82.15,408.70L85.35,402.90L78.95,402.90Z" fill="#0896c0"/>
<path d="M90.85,413.70L94.05,407.90L87.65,407.90Z" fill="#0896c0"/>
<path d="M99.54,415.00L102.74,409.20L96.34,409.20Z" fill="#0896c0"/>
<path d="M108.23,420.10L111.43,414.30L105.03,414.30Z" fill="#0896c0"/>
<path d="M116.93,421.00L120.13,415.20L113.73,415.20Z" fill="#0896c0"/>
<path d="M125.62,420.50L128.82,414.70L122.42,414.70Z" fill="#0896c0"/>
<path d="M134.32,422.30L137.52,416.50L131.12,416.50Z" fill="#0896c0"/>
<path d="M143.01,423.60L146.21,417.80L139.81,417.80Z" fill="#0896c0"/>
<path d="M151.70,426.90L154.90,421.10L148.50,421.10Z" fill="#0896c0"/>
<path d="M160.40,427.00L163.60,421.20L157.20,421.20Z" fill="#0896c0"/>
<path d="M169.09,429.80L172.29,424.00L165.89,424.00Z" fill="#0896c0"/>
<path d="M177.78,424.30L180.98,418.50L174.58,418.50Z" fill="#0896c0"/>
<path d="M186.48,427.10L189.68,421.30L183.28,421.30Z" fill="#0896c0"/>
<path d="M199.52,430.00L202.72,424.20L196.32,424.20Z" fill="#0896c0"/>
<path d="M216.91,421.10L220.11,415.30L213.71,415.30Z" fill="#0896c0"/>
<path d="M234.29,423.20L237.49,417.40L231.09,417.40Z" fill="#0896c0"/>
<path d="M251.68,416.20V417.20M251.68,423.20V424.20M250.18,416.20h3M250.18,424.20h3" stroke="#0896c0" stroke-width="1" fill="none"/>
<path d="M251.68,423.50L254.88,417.70L248.48,417.70Z" fill="#0896c0"/>
<path d="M269.07,392.50V394.50M269.07,400.50V402.50M267.57,392.50h3M267.57,402.50h3" stroke="#0896c0" stroke-width="1" fill="none"/>
<path d="M269.07,400.80L272.27,395.00L265.87,395.00Z" fill="#0896c0"/>
<path d="M286.46,391.50V394.50M286.46,400.50V403.50M284.96,391.50h3M284.96,403.50h3" stroke="#0896c0" stroke-width="1" fill="none"/>
<path d="M286.46,400.80L289.66,395.00L283.26,395.00Z" fill="#0896c0"/>
<path d="M312.54,409.20V410.20M312.54,416.20V417.20M311.04,409.20h3M311.04,417.20h3" stroke="#0896c0" stroke-width="1" fill="none"/>
<path d="M312.54,416.50L315.74,410.70L309.34,410.70Z" fill="#0896c0"/>
<path d="M347.31,396.20V398.20M347.31,404.20V406.20M345.81,396.20h3M345.81,406.20h3" stroke="#0896c0" stroke-width="1" fill="none"/>
<path d="M347.31,404.50L350.51,398.70L344.11,398.70Z" fill="#0896c0"/>
<polyline points="56.07,409.00 64.77,432.60 73.46,446.00 82.15,453.70 90.85,457.30 99.54,457.30 108.23,457.30 116.93,455.00 125.62,452.40 134.32,448.60 143.01,445.30 151.70,449.60 160.40,443.80 169.09,440.20 177.78,439.10 186.48,437.40 199.52,441.30 216.91,427.00 234.29,426.70 251.68,428.80 269.07,403.00 286.46,405.30 312.54,421.40 347.31,408.50" fill="none" stroke="#ff0000" stroke-width="1.1" stroke-dasharray="1,1.2"/>
<path d="M56.07,405.90L58.17,409.00L56.07,412.10L53.97,409.00Z" fill="#ff0000"/>
<path d="M64.77,429.50L66.87,432.60L64.77,435.70L62.67,432.60Z" fill="#ff0000"/>
<path d="M73.46,442.90L75.56,446.00L73.46,449.10L71.36,446.00Z" fill="#ff0000"/>
<path d="M82.15,450.60L84.25,453.70L82.15,456.80L80.05,453.70Z" fill="#ff0000"/>
<path d="M90.85,454.20L92.95,457.30L90.85,460.40L88.75,457.30Z" fill="#ff0000"/>
<path d="M99.54,454.20L101.64,457.30L99.54,460.40L97.44,457.30Z" fill="#ff0000"/>
<path d="M108.23,454.20L110.33,457.30L108.23,460.40L106.13,457.30Z" fill="#ff0000"/>
<path d="M116.93,451.90L119.03,455.00L116.93,458.10L114.83,455.00Z" fill="#ff0000"/>
<path d="M125.62,449.30L127.72,452.40L125.62,455.50L123.52,452.40Z" fill="#ff0000"/>
<path d="M134.32,445.50L136.42,448.60L134.32,451.70L132.22,448.60Z" fill="#ff0000"/>
<path d="M143.01,442.20L145.11,445.30L143.01,448.40L140.91,445.30Z" fill="#ff0000"/>
<path d="M151.70,446.50L153.80,449.60L151.70,452.70L149.60,449.60Z" fill="#ff0000"/>
<path d="M160.40,440.70L162.50,443.80L160.40,446.90L158.30,443.80Z" fill="#ff0000"/>
<path d="M169.09,437.10L171.19,440.20L169.09,443.30L166.99,440.20Z" fill="#ff0000"/>
<path d="M177.78,436.00L179.88,439.10L177.78,442.20L175.68,439.10Z" fill="#ff0000"/>
<path d="M186.48,434.30L188.58,437.40L186.48,440.50L184.38,437.40Z" fill="#ff0000"/>
<path d="M199.52,438.20L201.62,441.30L199.52,444.40L197.42,441.30Z" fill="#ff0000"/>
<path d="M216.91,423.90L219.01,427.00L216.91,430.10L214.81,427.00Z" fill="#ff0000"/>
<path d="M234.29,423.60L236.39,426.70L234.29,429.80L232.19,426.70Z" fill="#ff0000"/>
<path d="M251.68,425.70L253.78,428.80L251.68,431.90L249.58,428.80Z" fill="#ff0000"/>
<path d="M269.07,399.00V400.00M269.07,406.00V407.00M267.57,399.00h3M267.57,407.00h3" stroke="#ff0000" stroke-width="1" fill="none"/>
<path d="M269.07,399.90L271.17,403.00L269.07,406.10L266.97,403.00Z" fill="#ff0000"/>
<path d="M286.46,401.30V402.30M286.46,408.30V409.30M284.96,401.30h3M284.96,409.30h3" stroke="#ff0000" stroke-width="1" fill="none"/>
<path d="M286.46,402.20L288.56,405.30L286.46,408.40L284.36,405.30Z" fill="#ff0000"/>
<path d="M312.54,417.40V418.40M312.54,424.40V425.40M311.04,417.40h3M311.04,425.40h3" stroke="#ff0000" stroke-width="1" fill="none"/>
<path d="M312.54,418.30L314.64,421.40L312.54,424.50L310.44,421.40Z" fill="#ff0000"/>
<path d="M347.31,403.50V405.50M347.31,411.50V413.50M345.81,403.50h3M345.81,413.50h3" stroke="#ff0000" stroke-width="1" fill="none"/>
<path d="M347.31,405.40L349.41,408.50L347.31,411.60L345.21,408.50Z" fill="#ff0000"/>
<path d="M45.5,477.59h5M371.5,477.59h-5M45.5,458.11h7.5M371.5,458.11h-7.5M45.5,442.19h5M371.5,442.19h-5M45.5,428.74h5M371.5,428.74h-5M45.5,417.08h5M371.5,417.08h-5M45.5,406.80h5M371.5,406.80h-5M45.5,397.60h7.5M371.5,397.60h-7.5M45.5,389.28h5M371.5,389.28h-5M45.5,381.68h5M371.5,381.68h-5M45.5,374.70h5M371.5,374.70h-5M45.5,368.23h5M371.5,368.23h-5M45.5,362.21h7M371.5,362.21h-7M45.5,356.57h5M371.5,356.57h-5M45.5,351.28h5M371.5,351.28h-5M45.5,346.29h5M371.5,346.29h-5M45.5,341.57h5M371.5,341.57h-5M45.5,337.09h7.5M371.5,337.09h-7.5M45.5,332.83h5M371.5,332.83h-5M45.5,328.77h5M371.5,328.77h-5M45.5,324.89h5M371.5,324.89h-5M45.5,321.18h5M371.5,321.18h-5M45.5,317.61h5M371.5,317.61h-5M51.73,317.5v3M51.73,477.5v-3M69.11,317.5v3M69.11,477.5v-3M86.50,317.5v5M86.50,477.5v-5M103.89,317.5v3M103.89,477.5v-3M121.28,317.5v3M121.28,477.5v-3M138.66,317.5v3M138.66,477.5v-3M156.05,317.5v5M156.05,477.5v-5M173.44,317.5v3M173.44,477.5v-3M190.82,317.5v3M190.82,477.5v-3M208.21,317.5v3M208.21,477.5v-3M225.60,317.5v5M225.60,477.5v-5M242.99,317.5v3M242.99,477.5v-3M260.38,317.5v3M260.38,477.5v-3M277.76,317.5v3M277.76,477.5v-3M295.15,317.5v5M295.15,477.5v-5M312.54,317.5v3M312.54,477.5v-3M329.92,317.5v3M329.92,477.5v-3M347.31,317.5v3M347.31,477.5v-3M364.70,317.5v5M364.70,477.5v-5" stroke="#000" stroke-width="1" fill="none"/>
<rect x="45.5" y="317.5" width="326.0" height="160.0" fill="none" stroke="#000" stroke-width="1"/>
<path d="M45.0,478.5H372.0" stroke="#000" stroke-width="1"/>
<text x="38.4" y="462.11" font-size="11.4" text-anchor="end">0.5</text>
<text x="373.7" y="462.31" font-size="11.4">0.5</text>
<text x="38.4" y="401.60" font-size="11.4" text-anchor="end">1</text>
<text x="373.7" y="401.80" font-size="11.4">1</text>
<text x="38.4" y="341.09" font-size="11.4" text-anchor="end">2</text>
<text x="373.7" y="341.29" font-size="11.4">2</text>
<text x="86.50" y="489" font-size="11" text-anchor="middle">2</text>
<text x="156.05" y="489" font-size="11" text-anchor="middle">4</text>
<text x="225.60" y="489" font-size="11" text-anchor="middle">6</text>
<text x="295.15" y="489" font-size="11" text-anchor="middle">8</text>
<text x="364.70" y="489" font-size="11" text-anchor="middle">10</text>
<text x="243" y="500.5" font-size="12.8">p</text>
<text x="250.5" y="507" font-size="8.5">T</text>
<text x="258.3" y="500.5" font-size="12.8">(leading track) [GeV]</text>
</svg></body></html>
